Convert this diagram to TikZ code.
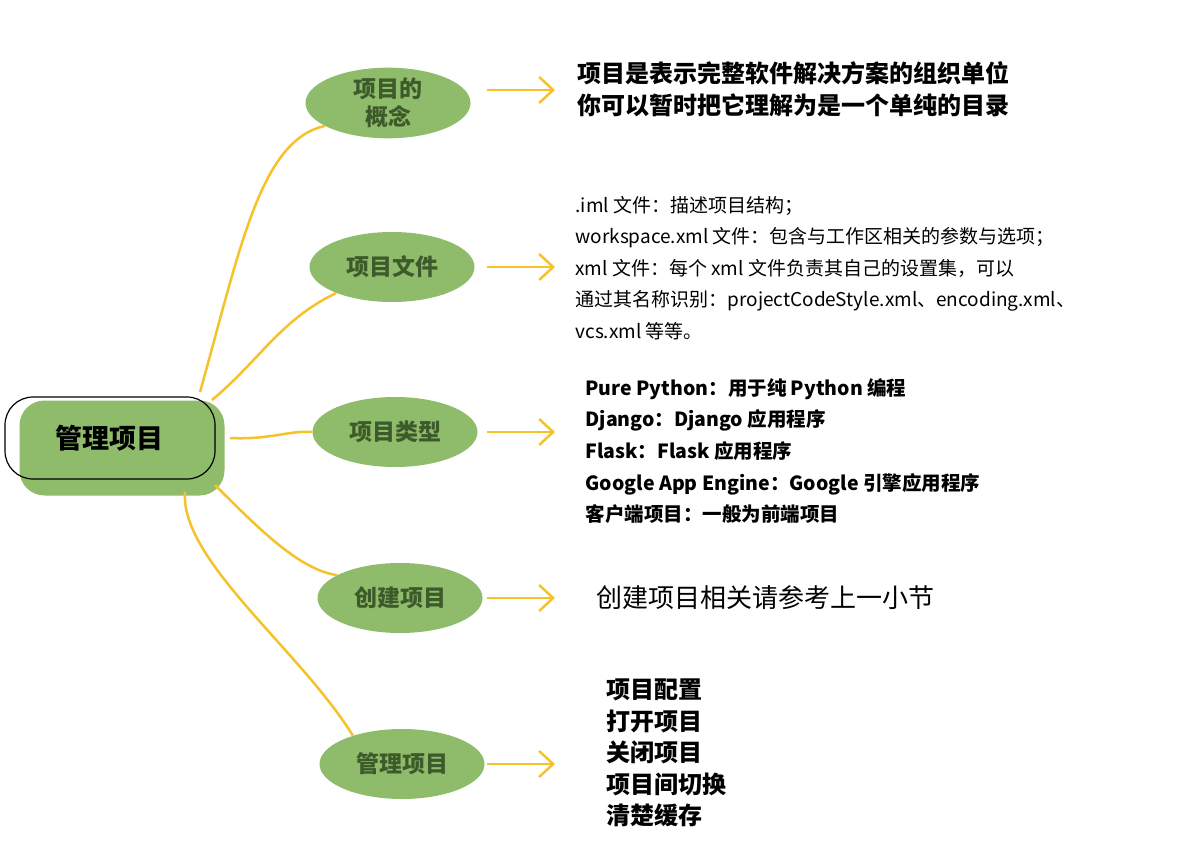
\documentclass[tikz,border=0pt]{standalone}
\usepackage{fontspec}
\setmainfont{Noto Sans CJK SC}
\usetikzlibrary{shapes.geometric,arrows.meta}
\definecolor{leaf}{HTML}{8FBC6A}
\definecolor{gold}{HTML}{F5C22A}
\definecolor{ltxt}{HTML}{3D5A2A}
\tikzset{
 branch/.style={ellipse,fill=leaf,minimum width=165pt,minimum height=70pt,inner sep=0pt,align=center,text=ltxt,font=\fontsize{23}{28}\selectfont\bfseries},
 link/.style={gold,line width=2.5pt},
 pointer/.style={gold,line width=2.5pt,-{Straight Barb[length=14pt,width=26pt,line width=2.5pt]}},
 bigtxt/.style={anchor=west,align=left,font=\fontsize{24}{31.5}\selectfont\bfseries},
}
\begin{document}
\begin{tikzpicture}[x=1pt,y=-1pt]
\useasboundingbox (0,0) rectangle (1187,854);
% center
\node[rounded corners=25pt,fill=leaf,minimum width=205pt,minimum height=95pt] (cbg) at (122,448) {};
\node[draw=black,line width=1.2pt,rounded corners=28pt,minimum width=210pt,minimum height=82pt,font=\fontsize{27}{32}\selectfont\bfseries] (c) at (110,438) {管理项目};
% branches
\node[branch] (b1) at (388,103) {项目的\\概念};
\node[branch] (b2) at (392,267) {项目文件};
\node[branch] (b3) at (395,432) {项目类型};
\node[branch] (b4) at (400,598) {创建项目};
\node[branch] (b5) at (402,764) {管理项目};
% connectors
\coordinate (s1) at (200,392);
\coordinate (s2) at (212,400);
\coordinate (s3) at (230,438);
\coordinate (s4) at (215,485);
\coordinate (s5) at (185,492);
\draw[link] (s1) .. controls (240,250) and (260,140) .. (b1.200);
\draw[link] (s2) .. controls (260,360) and (280,320) .. (b2.205);
\draw[link] (s3) .. controls (270,440) and (290,430) .. (b3.west);
\draw[link] (s4) .. controls (260,530) and (300,570) .. (b4.160);
\draw[link] (s5) .. controls (180,560) and (300,650) .. (b5.150);
% arrows
\foreach \i/\y in {1/90,2/267,3/432,4/598,5/764}{
 \coordinate (a\i) at (487,\y); \coordinate (e\i) at (555,\y);
 \draw[pointer] (a\i) -- (e\i);}
% texts
\node[bigtxt] (t1) at (574,89) {项目是表示完整软件解决方案的组织单位\\你可以暂时把它理解为是一个单纯的目录};
\node[anchor=west,align=left,font=\fontsize{19}{31.5}\selectfont] (t2) at (572,268) {.iml 文件：描述项目结构；\\workspace.xml 文件：包含与工作区相关的参数与选项；\\xml 文件：每个 xml 文件负责其自己的设置集，可以\\通过其名称识别：projectCodeStyle.xml、encoding.xml、\\vcs.xml 等等。};
\node[anchor=west,align=left,font=\fontsize{19.5}{31.7}\selectfont\bfseries] (t3) at (582,451) {Pure Python：用于纯 Python 编程\\Django：Django 应用程序\\Flask：Flask 应用程序\\Google App Engine：Google 引擎应用程序\\客户端项目：一般为前端项目};
\node[anchor=west,font=\fontsize{26}{30}\selectfont] (t4) at (593,598) {创建项目相关请参考上一小节};
\node[bigtxt] (t5) at (603,753) {项目配置\\打开项目\\关闭项目\\项目间切换\\清楚缓存};
\end{tikzpicture}
\end{document}
